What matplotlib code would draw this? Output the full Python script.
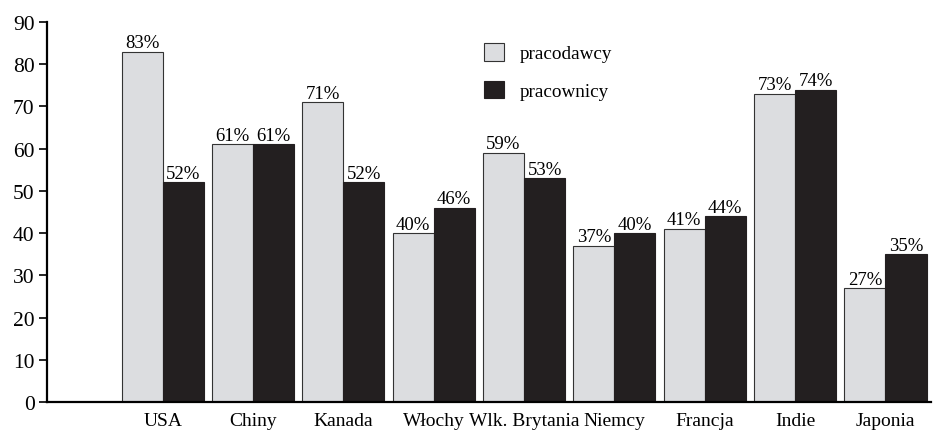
import numpy as np
import matplotlib.pyplot as plt

countries = ['USA', 'Chiny', 'Kanada', 'Włochy', 'Wlk. Brytania', 'Niemcy',
             'Francja', 'Indie', 'Japonia']
employers = [83, 61, 71, 40, 59, 37, 41, 73, 27]
employees = [52, 61, 52, 46, 53, 40, 44, 74, 35]

plt.rcParams['font.family'] = ['Liberation Serif', 'DejaVu Serif']

light = '#dcdde0'
dark = '#231f20'

fig = plt.figure(figsize=(9.33, 4.31), dpi=100)
ax = fig.add_axes([0.0504, 0.065, 0.947, 0.8816])

x = np.arange(1, len(countries) + 1)
w = 0.455
b1 = ax.bar(x - w / 2, employers, w, color=light, edgecolor='#333333',
            linewidth=0.8, label='pracodawcy')
b2 = ax.bar(x + w / 2, employees, w, color=dark, edgecolor=dark,
            linewidth=0.8, label='pracownicy')

for bars in (b1, b2):
    for r in bars:
        h = r.get_height()
        ax.text(r.get_x() + r.get_width() / 2, h + 0.1, '%d%%' % h,
                ha='center', va='bottom', fontsize=13.5)

ax.set_xlim(-0.28, 9.5)
ax.set_ylim(0, 90)
ax.set_yticks(range(0, 91, 10))
ax.set_xticks(x)
ax.set_xticklabels(countries)
ax.tick_params(axis='x', length=0, labelsize=14, pad=7)
ax.tick_params(axis='y', length=6, width=1.2, labelsize=15.5, pad=3)
for s in ('top', 'right'):
    ax.spines[s].set_visible(False)
ax.spines['left'].set_linewidth(1.6)
ax.spines['bottom'].set_linewidth(1.6)

ax.legend(loc='upper left', bbox_to_anchor=(0.475, 0.99), frameon=False,
          fontsize=13.8, handlelength=1.05, handleheight=1.05,
          labelspacing=0.95, handletextpad=0.8)

fig.savefig('out.png', dpi=100)
